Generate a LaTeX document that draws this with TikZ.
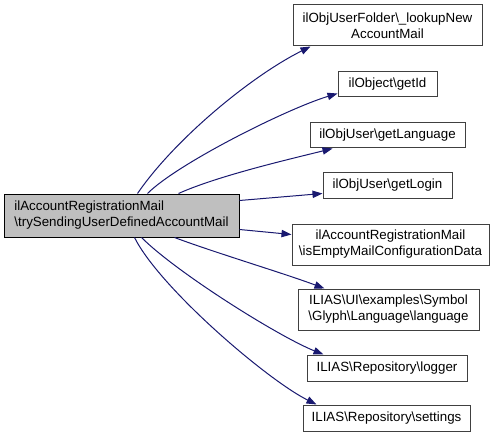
\documentclass[tikz,border=0pt]{standalone}
\usepackage{fontspec}
\setmainfont{Liberation Sans}
\usetikzlibrary{arrows.meta}
\definecolor{edgeblue}{HTML}{191970}
\definecolor{srcgray}{HTML}{BFBFBF}
\definecolor{boxline}{HTML}{404040}
\tikzset{
  box/.style={draw=boxline, fill=white, line width=0.75pt, inner sep=0pt, align=center,
    font=\fontsize{10}{12}\selectfont},
  srcbox/.style={draw=black, fill=srcgray, line width=0.75pt, inner sep=0pt, align=left,
    font=\fontsize{10}{12}\selectfont},
  edge/.style={draw=edgeblue, line width=0.75pt, -{Triangle[length=7.5pt,width=5.5pt]}}
}
\begin{document}
\begin{tikzpicture}[x=0.75pt,y=-0.75pt]
\useasboundingbox (0,0) rectangle (495,438);
\node[srcbox, minimum width=176.25pt, minimum height=32.25pt] (src) at (121.5,215.5)
  {ilAccountRegistrationMail\\\textbackslash trySendingUserDefinedAccountMail};
\node[box, minimum width=141.75pt, minimum height=30.75pt] (t1) at (387.5,25.5)
  {ilObjUserFolder\textbackslash \_lookupNew\\AccountMail};
\node[box, minimum width=74.25pt, minimum height=18.75pt] (t2) at (387.5,84.5)
  {ilObject\textbackslash getId};
\node[box, minimum width=116.25pt, minimum height=18.75pt] (t3) at (387.5,135.5)
  {ilObjUser\textbackslash getLanguage};
\node[box, minimum width=96.75pt, minimum height=18.75pt] (t4) at (387.5,185.5)
  {ilObjUser\textbackslash getLogin};
\node[box, minimum width=147.75pt, minimum height=30.75pt] (t5) at (390.5,244.5)
  {ilAccountRegistrationMail\\\textbackslash isEmptyMailConfigurationData};
\node[box, minimum width=135.75pt, minimum height=30.75pt] (t6) at (388.5,309.5)
  {ILIAS\textbackslash UI\textbackslash examples\textbackslash Symbol\\\textbackslash Glyph\textbackslash Language\textbackslash language};
\node[box, minimum width=120pt, minimum height=19.5pt] (t7) at (387,368)
  {ILIAS\textbackslash Repository\textbackslash logger};
\node[box, minimum width=125.25pt, minimum height=19.5pt] (t8) at (386.5,418)
  {ILIAS\textbackslash Repository\textbackslash settings};

\path[edge] ([xshift=100.5pt]src.north west) .. controls +(37,-54) and +(-60,30) .. ([xshift=13.5pt]t1.south west);
\path[edge] ([xshift=108pt]src.north west) .. controls +(30,-30) and +(-50,15) .. ([yshift=3pt]t2.south west);
\path[edge] ([xshift=131.25pt]src.north west) .. controls +(40,-18) and +(-40,10) .. ([xshift=17.25pt]t3.south west);
\path[edge] ([yshift=-5.25pt]src.north east) -- ([yshift=3.75pt]t4.south west);
\path[edge] ([yshift=6pt]src.south east) -- ([yshift=-8.25pt]t5.north west);
\path[edge] ([xshift=128.25pt]src.south west) .. controls +(40,15) and +(-40,-15) .. ([xshift=20.25pt]t6.north west);
\path[edge] ([xshift=103.5pt]src.south west) .. controls +(35,35) and +(-45,-18) .. ([xshift=12.75pt]t7.north west);
\path[edge] ([xshift=98.25pt]src.south west) .. controls +(25,50) and +(-50,-25) .. ([xshift=10.5pt]t8.north west);
\end{tikzpicture}
\end{document}
